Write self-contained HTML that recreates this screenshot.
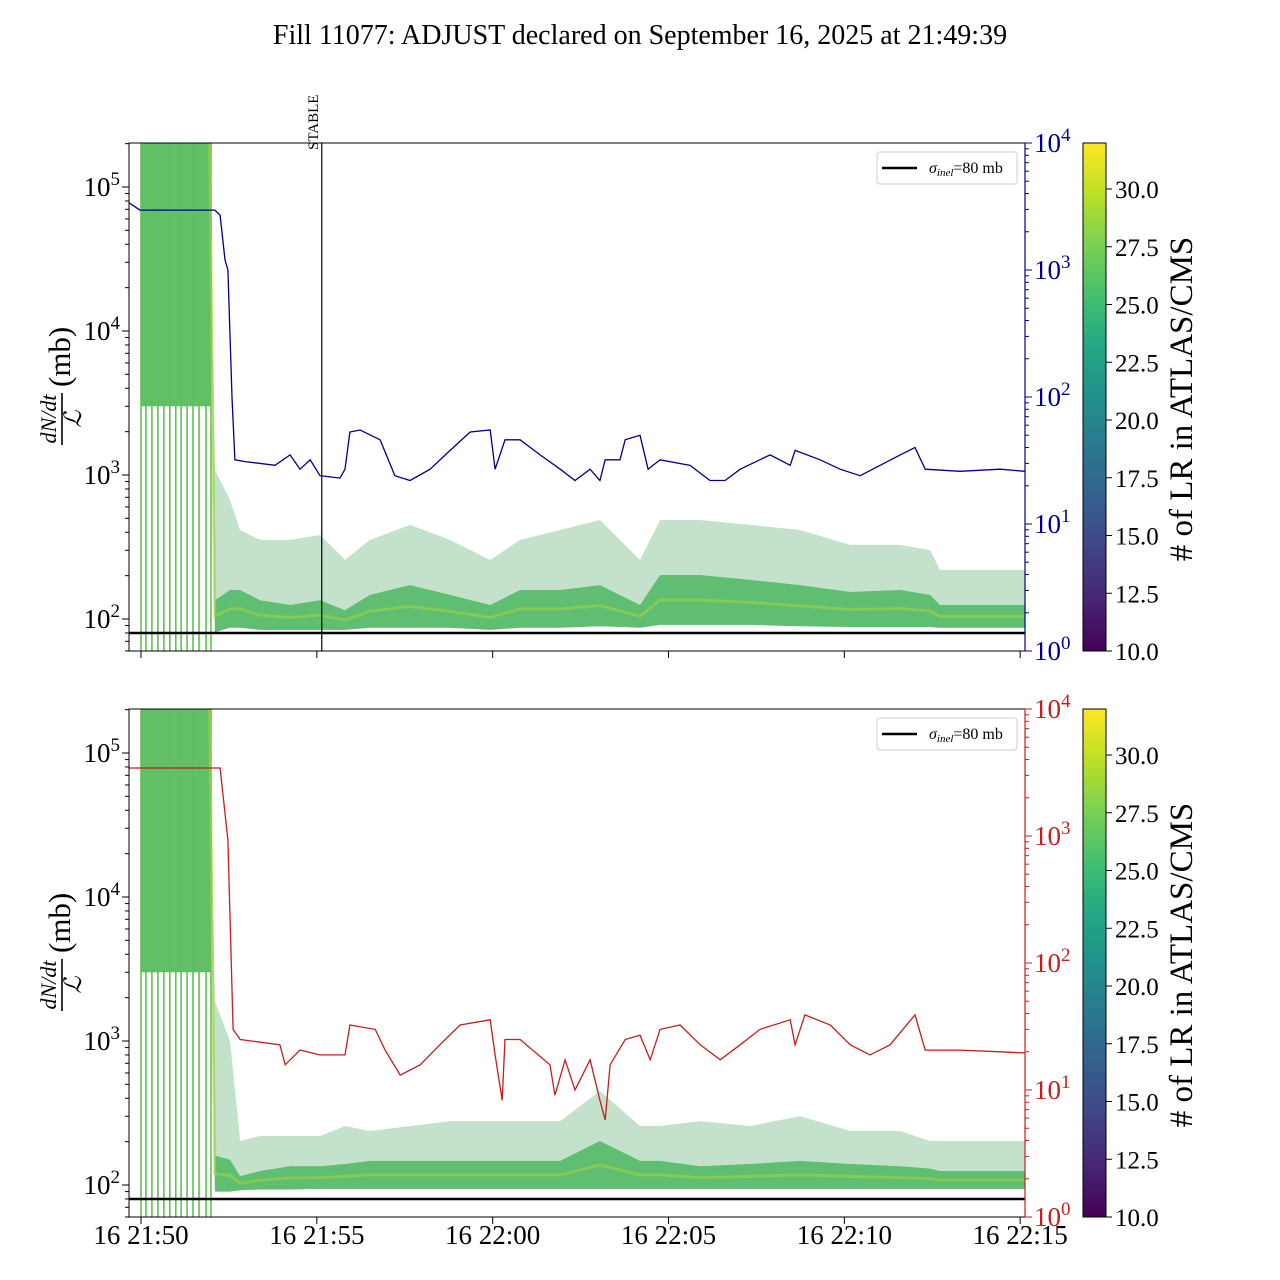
<!DOCTYPE html>
<html><head><meta charset="utf-8"><style>
html,body{margin:0;padding:0;background:#fff}
svg{display:block;font-family:"Liberation Serif",serif}
</style></head><body>
<svg id="chart" width="1280" height="1280" xmlns="http://www.w3.org/2000/svg">
<defs>
<linearGradient id="viridis" x1="0" y1="1" x2="0" y2="0">
<stop offset="0" stop-color="#440154"/><stop offset="0.1" stop-color="#482475"/><stop offset="0.2" stop-color="#414487"/><stop offset="0.3" stop-color="#355f8d"/><stop offset="0.4" stop-color="#2a788e"/><stop offset="0.5" stop-color="#21918c"/><stop offset="0.6" stop-color="#22a884"/><stop offset="0.7" stop-color="#44bf70"/><stop offset="0.8" stop-color="#7ad151"/><stop offset="0.9" stop-color="#bddf26"/><stop offset="1" stop-color="#fde725"/>
</linearGradient>
<clipPath id="clipTop"><rect x="129" y="143" width="896" height="508"/></clipPath>
<clipPath id="clipBot"><rect x="129" y="709" width="896" height="508"/></clipPath>
</defs>
<text x="640" y="44" font-size="28" text-anchor="middle">Fill 11077: ADJUST declared on September 16, 2025 at 21:49:39</text>
<g id="layer"></g>
</svg>
<script>
// time in minutes after 21:50
const wallT=[0,0.14,0.31,0.48,0.65,0.82,0.99,1.14,1.31,1.48,1.65,1.85,1.99];
const bandT=[1.95,2.1,2.53,2.82,3.38,4.24,5.09,5.8,6.51,7.65,8.79,9.93,10.78,11.92,13.05,14.19,14.76,15.9,17.32,18.74,20.17,21.59,22.44,22.72,25.14];
const topHi=[200000,1084,670,415,354,354,383,257,354,450,354,257,354,415,487,257,487,487,450,415,327,327,301,219,219];
const topMid=[200000,135,159,159,135,125,135,115,147,172,147,125,159,159,172,125,202,202,187,172,154,159,147,125,125];
const topLo=[200000,81,87,87,84,84,84,84,87,87,87,84,87,87,89,87,91,91,91,89,88,88,88,87,87];
const botHi=[200000,1897,1000,202,219,219,219,257,237,257,278,278,278,278,450,257,257,278,257,301,237,237,202,202,202];
const botMid=[200000,160,150,115,125,135,135,140,147,147,147,147,147,147,202,147,147,135,140,147,140,135,130,125,125];
const botLo=[200000,90,90,92,93,93,94,94,94,94,94,94,94,94,94,94,94,94,94,94,94,94,94,94,94];
const blueT=[-0.34,-0.03,2.1,2.25,2.39,2.47,2.59,2.67,2.96,3.81,4.24,4.52,4.81,5.09,5.66,5.8,5.94,6.23,6.8,7.22,7.65,8.22,8.79,9.36,9.93,10.07,10.35,10.78,11.35,11.92,12.34,12.77,13.05,13.2,13.62,13.77,14.19,14.42,14.76,15.61,16.18,16.61,17.04,17.89,18.46,18.6,19.31,19.88,20.45,21.02,21.59,22.01,22.3,23.29,24.43,25.14];
const blueV=[3390,2960,2960,2700,1200,1000,95,32,31,29,35,27,32,24,23,27,53,55,46,24,22,27,38,53,55,27,46,46,35,27,22,27,22,32,32,46,50,27,32,29,22,22,27,35,29,38,32,27,24,29,35,40,27,26,27,26];
const redT=[-0.34,2.25,2.47,2.62,2.82,3.95,4.1,4.52,5.09,5.8,5.94,6.66,6.94,7.37,7.94,8.5,9.07,9.93,10.07,10.27,10.35,10.78,11.63,11.77,12.06,12.34,12.77,13.05,13.2,13.34,13.77,14.19,14.48,14.76,15.33,15.9,16.47,17.04,17.6,18.46,18.6,18.88,19.6,20.17,20.73,21.3,22.01,22.3,23.29,24.43,25.14];
const redV=[3430,3430,930,30,25,22.7,15.8,20.6,18.9,18.9,32.5,30,20.6,13.1,15.8,22.7,32.5,35.7,18.9,8.3,25,25,15.8,9.1,17.3,10,17.3,8.3,5.8,15.8,25,27,17.3,30,32.5,22.7,17.3,22.7,30,35.7,22.7,39,32.5,22.7,18.9,22.7,39,20.6,20.6,20,19.6];
const xTickT=[0,5,10,15,20,25];
const xTickL=["16 21:50","16 21:55","16 22:00","16 22:05","16 22:10","16 22:15"];
const cbTicks=[10,12.5,15,17.5,20,22.5,25,27.5,30];
const sigmaInel=80;
const stableT=5.14;

const NS="http://www.w3.org/2000/svg";
const layer=document.getElementById('layer');
function mk(tag,attrs,parent){const e=document.createElementNS(NS,tag);for(const k in attrs)e.setAttribute(k,attrs[k]);(parent||layer).appendChild(e);return e;}
const xS=m=>141+m*35.1667;
function yL(v,top){return top+44-(Math.log10(v)-5)*144;}
function yR(v,top){return top+508-Math.log10(v)*127;}

function panel(top,clip,hi,mid,lo,rT,rV,rColor,name,showX){
  const g=mk('g',{'clip-path':'url(#'+clip+')'});
  
  
  const wl=mk('rect',{x:xS(wallT[0]),y:top,width:xS(wallT[wallT.length-1])-xS(wallT[0]),height:yL(3000,top)-top,fill:'#4fb85a',opacity:0.9},g);
  
  
  wallT.forEach((t,i)=>{
    const l=mk('line',{x1:xS(t),x2:xS(t),y1:top,y2:top+508,stroke:i%2?'#5cc05a':'#6abf4b','stroke-width':1.6},g);
    
    
  });
  function bandPath(upper,lower){
    let d='';
    bandT.forEach((t,i)=>{d+=(i?'L':'M')+xS(t).toFixed(1)+','+yL(upper[i],top).toFixed(1);});
    for(let i=bandT.length-1;i>=0;i--)d+='L'+xS(bandT[i]).toFixed(1)+','+yL(lower[i],top).toFixed(1);
    return d+'Z';
  }
  const ob=mk('path',{d:bandPath(hi,lo),fill:'#7dbf8c',opacity:0.45},g);
  
  
  const ib=mk('path',{d:bandPath(mid,lo),fill:'#4db761',opacity:0.85},g);
  
  
  let d2='';bandT.forEach((t,i)=>{d2+=(i?'L':'M')+xS(t).toFixed(1)+','+((yL(mid[i],top)+yL(lo[i],top))/2).toFixed(1);});
  const ml=mk('path',{d:d2,fill:'none',stroke:'#9fd245','stroke-width':3,opacity:0.6},g);
  
  
  const sl=mk('line',{x1:129,x2:1025,y1:yL(sigmaInel,top),y2:yL(sigmaInel,top),stroke:'#000','stroke-width':2.5},g);
  
  
  let d='';rT.forEach((t,i)=>{d+=(i?'L':'M')+xS(t).toFixed(1)+','+yR(rV[i],top).toFixed(1);});
  const rl=mk('path',{d:d,fill:'none',stroke:rColor,'stroke-width':1.3},g);
  
  
  const fr=mk('rect',{x:129,y:top,width:896,height:508,fill:'none',stroke:'#000','stroke-width':1});
  
  
  mk('line',{x1:1025,x2:1025,y1:top,y2:top+508,stroke:rColor,'stroke-width':1.2});
  for(let k=1;k<=5;k++){for(let m=1;m<=9;m++){const v=m*Math.pow(10,k);const y=yL(v,top);if(y<top||y>top+508)continue;
    mk('line',{x1:129,x2:129-(m==1?7:4),y1:y,y2:y,stroke:'#000','stroke-width':1});
    if(m==1){const t=mk('text',{x:120,y:y+9,'font-size':27,'text-anchor':'end'});t.innerHTML='10<tspan dy="-11" font-size="19">'+k+'</tspan>';}}}
  for(let k=0;k<=4;k++){for(let m=1;m<=9;m++){const v=m*Math.pow(10,k);const y=yR(v,top);if(y<top-0.5||y>top+508.5)continue;
    mk('line',{x1:1025,x2:1025+(m==1?7:4),y1:y,y2:y,stroke:rColor,'stroke-width':1});
    if(m==1){const t=mk('text',{x:1034,y:y+9,'font-size':27,fill:rColor});t.innerHTML='10<tspan dy="-11" font-size="19">'+k+'</tspan>';}}}
  xTickT.forEach((t,i)=>{mk('line',{x1:xS(t),x2:xS(t),y1:top+508,y2:top+515,stroke:'#000'});
    if(showX){const tx=mk('text',{x:xS(t),y:top+535,'font-size':27,'text-anchor':'middle'});tx.textContent=xTickL[i];}});
  const yl=mk('g',{transform:'translate(64,'+(top+254)+') rotate(-90)'});
  
  
  const a=mk('text',{x:-22,y:-8,'font-size':22,'font-style':'italic','text-anchor':'middle'},yl);a.textContent='dN/dt';
  mk('line',{x1:-48,x2:4,y1:-2,y2:-2,stroke:'#000','stroke-width':1.6},yl);
  const b=mk('text',{x:-22,y:17,'font-size':24,'font-style':'italic','text-anchor':'middle'},yl);b.textContent='ℒ';
  const c=mk('text',{x:10,y:6,'font-size':31},yl);c.textContent='(mb)';
  const lg=mk('g',{});
  
  
  mk('rect',{x:877,y:top+9,width:140,height:32,rx:3,fill:'#fff',stroke:'#ccc'},lg);
  mk('line',{x1:882,x2:917,y1:top+25,y2:top+25,stroke:'#000','stroke-width':2.5},lg);
  const lt=mk('text',{x:929,y:top+30,'font-size':16},lg);lt.innerHTML='<tspan font-style="italic">σ</tspan><tspan font-size="11" font-style="italic" dy="3">inel</tspan><tspan dy="-3">=80 mb</tspan>';
  const cb=mk('rect',{x:1083,y:top,width:23,height:508,fill:'url(#viridis)',stroke:'#000','stroke-width':1});
  
  
  cbTicks.forEach(v=>{const y=top+508-(v-10)/2.5*57.75;mk('line',{x1:1106,x2:1112,y1:y,y2:y,stroke:'#000'});
    const t=mk('text',{x:1115,y:y+9,'font-size':25});t.textContent=v.toFixed(1);});
  const ct=mk('text',{x:0,y:0,'font-size':33,'text-anchor':'middle',transform:'translate(1192,'+(top+256)+') rotate(-90)'});
  ct.textContent='# of LR in ATLAS/CMS';
  
  
}
panel(143,'clipTop',topHi,topMid,topLo,blueT,blueV,'#00008b','top',false);
panel(709,'clipBot',botHi,botMid,botLo,redT,redV,'#c41e1e','bottom',true);
const st=mk('line',{x1:xS(stableT),x2:xS(stableT),y1:143,y2:651,stroke:'#000','stroke-width':1.2});


const stt=mk('text',{x:0,y:0,'font-size':15,transform:'translate('+(xS(stableT)-4)+',150) rotate(-90)'});
stt.textContent='STABLE';


</script>
</body></html>
